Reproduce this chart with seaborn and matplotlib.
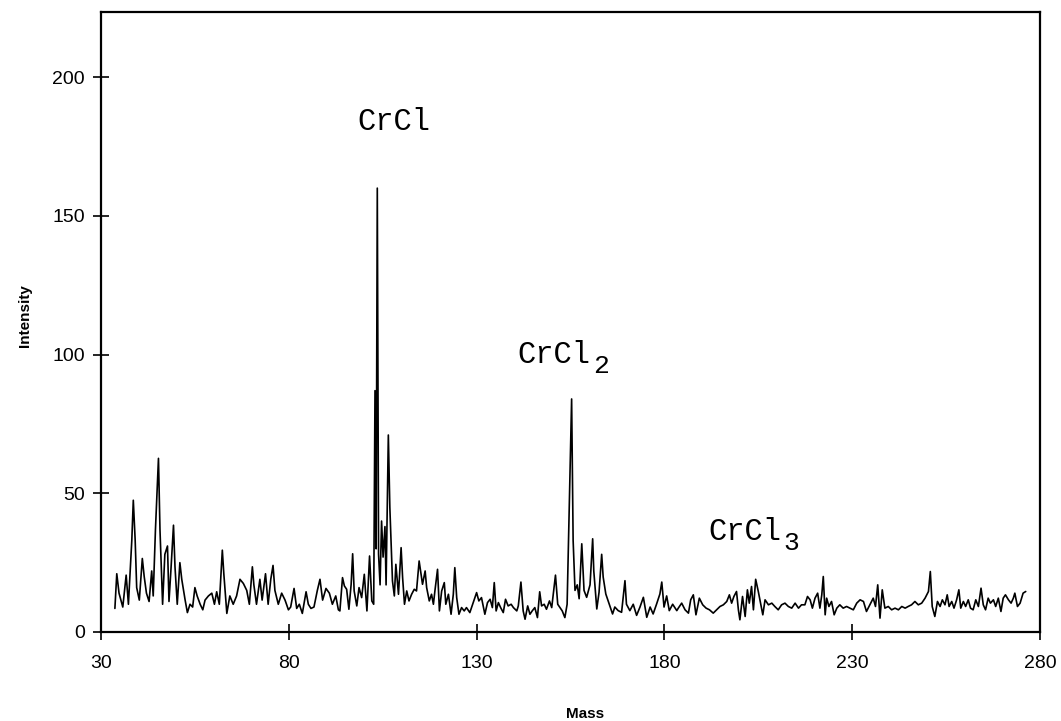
import matplotlib
matplotlib.use("Agg")
import matplotlib.pyplot as plt
import seaborn as sns
import pandas as pd
from matplotlib import font_manager

# ---- data (mass, intensity) ----
mass_low = [33.7, 34.2, 34.8, 35.8, 36.7, 37.3, 38.2, 38.6, 39.1, 39.5,
            40.2, 41.0, 41.5, 42.1, 42.8, 43.5, 43.9, 44.5, 45.3, 45.7,
            46.4, 47.0, 47.7, 48.1, 48.6, 49.3, 49.7, 50.3, 51.0, 51.5,
            52.4, 53.0, 53.7, 54.4, 55.0, 55.6, 56.4, 57.1, 57.7, 58.6,
            59.5, 60.2, 60.8, 61.5, 62.3, 62.7, 63.5, 64.3, 65.2, 66.1,
            67.0, 67.9, 68.8, 69.5, 70.3, 70.7, 71.4, 72.3, 72.9, 73.8,
            74.5, 75.2, 75.8, 76.3, 77.2, 78.1, 79.0, 79.9, 80.5, 81.4,
            82.1, 82.8, 83.6, 84.6, 85.2, 85.9, 86.7, 87.6, 88.3, 89.0,
            89.9, 90.8, 91.6, 92.5, 93.2]
inten_low = [8.5, 21, 14, 9, 20.5, 10, 33, 47.5, 33, 16,
             11.5, 26.5, 20, 14, 11, 22, 13, 37, 62.6, 37,
             10, 28, 31, 11, 22, 38.5, 23.5, 10, 25, 19,
             11.5, 7, 10, 9, 16, 13, 10, 8, 11.5, 13,
             14, 10, 14.5, 10, 29.5, 21, 6.7, 13, 10, 13,
             19, 17.5, 15, 10, 23.5, 17, 10, 19, 11.5, 21,
             10, 19, 24, 15, 10, 14, 11.5, 8, 9, 15.7,
             8.5, 10, 6.7, 14.5, 10, 8.5, 9, 15, 19, 11.5,
             15.7, 14, 10, 13, 8]

mass_mid = [93.6, 94.3, 94.8, 95.4, 96.0, 96.6, 97.0, 97.4, 98.1, 98.7,
            99.4, 100.1, 100.8, 101.5, 102.1, 102.6, 102.95, 103.25, 103.56, 103.9,
            104.3, 104.7, 105.1, 105.6, 105.9, 106.5, 106.9, 107.6, 108.1, 108.5,
            109.2, 109.9, 110.3, 110.8, 111.4, 112.0, 112.7, 113.4, 114.0, 114.7,
            115.2, 115.6, 116.3, 116.7, 117.4, 118.0, 118.5, 118.9, 119.6, 120.1,
            120.7, 121.4, 121.8, 122.5, 123.2, 123.8, 124.2, 124.7, 125.3, 126.0,
            126.7, 127.3, 128.2, 129.1, 130.0, 130.6, 131.3, 132.2, 132.9, 133.6,
            134.2, 134.7, 135.2, 135.8, 136.4, 137.1, 137.7, 138.4, 139.2, 139.8,
            140.7, 141.1, 141.8, 142.4, 142.9, 143.6, 144.2, 144.8, 145.5, 146.2,
            146.8, 147.3, 148.0, 148.6, 149.4, 150.0, 150.4, 151.0, 151.6, 152.2,
            152.8, 153.5, 154.1, 154.7, 155.3, 155.7, 156.2, 156.8, 157.3, 158.0,
            158.6, 159.3, 160.2, 160.9, 161.2, 162.0, 162.6, 163.3, 163.7, 164.4,
            165.3, 166.2, 166.8, 167.7, 168.6, 169.5, 169.9, 170.8, 171.7, 172.6,
            173.5, 174.4, 175.3, 176.2, 177.0, 177.9, 178.8, 179.3, 179.9, 180.6,
            181.3, 182.2, 183.3]
inten_mid = [7.6, 19.6, 16.6, 15.4, 8.2, 17.2, 28.2, 14.8, 9.4, 16,
             12.4, 20.8, 7.6, 27.4, 11.2, 10, 87, 30, 160, 28,
             17, 40, 27, 38, 17, 71, 45, 18.4, 13, 24.4,
             13.6, 30.4, 19.6, 10, 14.8, 11.2, 13.6, 15.4, 14.8, 25.6,
             20.8, 17.2, 22, 16, 11.2, 13.6, 10, 14.8, 22.6, 7.6,
             14.8, 17.8, 10, 13.6, 6.4, 13.6, 23.2, 12.4, 6.4, 8.8,
             7.6, 8.8, 7, 10.6, 14.2, 11.2, 12.4, 6.4, 10.6, 11.8,
             8.8, 17.8, 7.6, 10.6, 8.8, 7, 11.8, 9.4, 10, 8.8,
             7.6, 9.4, 18, 7.6, 4.6, 9.4, 6.4, 7.6, 8.8, 5.2,
             14.5, 9.4, 10, 8.2, 11.2, 8.8, 13.6, 20.5, 10, 8.8,
             7.6, 5.2, 10, 47, 84, 33, 15, 17, 12, 31.8,
             15, 12.5, 17, 33.6, 22, 8.3, 14.3, 28, 19.8, 13.7,
             10.1, 6.5, 9, 7.7, 7.1, 18.5, 10, 7.7, 10, 6,
             9, 12.5, 5.3, 9, 6.5, 10, 13.7, 18, 9, 13,
             7.7, 10, 7.7]

mass_high = [183.7, 184.6, 185.5, 186.4, 187.0, 187.7, 188.4, 189.3, 190.2, 191.1,
             192.0, 193.0, 193.9, 194.8, 195.7, 196.6, 197.3, 197.9, 198.5, 199.2,
             199.7, 200.1, 200.8, 201.5, 202.1, 202.6, 203.2, 203.7, 204.3, 205.0,
             205.6, 206.2, 206.8, 207.7, 208.6, 209.4, 210.3, 211.2, 212.1, 213.0,
             213.9, 214.8, 215.7, 216.5, 217.4, 218.1, 218.8, 219.4, 220.1, 220.8,
             221.4, 221.9, 222.3, 222.8, 223.2, 223.8, 224.5, 225.2, 225.9, 226.7,
             227.6, 228.5, 229.4, 230.3, 231.2, 232.1, 233.0, 233.8, 234.7, 235.6,
             236.2, 236.8, 237.4, 238.0, 238.7, 239.6, 240.5, 241.4, 242.3, 243.2,
             244.1, 244.9, 245.8, 246.7, 247.6, 248.5, 249.4, 250.3, 250.8, 251.3,
             252.0, 252.7, 253.4, 254.0, 254.7, 255.3, 255.8, 256.5, 257.1, 257.8,
             258.4, 258.9, 259.6, 260.2, 260.9, 261.5, 262.2, 262.9, 263.6, 264.3,
             264.9, 265.5, 266.2, 266.8, 267.6, 268.2, 268.9, 269.6, 270.2, 270.8,
             271.6, 272.3, 272.9, 273.3, 274.0, 274.7, 275.5, 276.2]
inten_high = [8.6, 10.4, 8, 6.8, 11.6, 13.4, 6.2, 12.2, 9.8, 8.6,
              8, 6.8, 8, 9.2, 9.8, 11, 13.4, 10.4, 12.8, 14.6,
              8, 4.4, 12.8, 5.6, 15.2, 10.4, 16.4, 8, 19, 14.6,
              10.4, 6.2, 11.6, 9.8, 10.4, 9.2, 8, 9.8, 10.4, 9.2,
              8.6, 10.4, 8.6, 9.8, 9.8, 12.8, 11.6, 8.6, 12.2, 14,
              8.6, 13.4, 20, 6.2, 12.2, 9.2, 11, 6.2, 8.6, 9.8,
              8.6, 9.2, 8.6, 8, 10.4, 11.6, 11, 7.4, 9.8, 12.2,
              9.2, 17, 5, 15.2, 8.6, 9.2, 8, 8.6, 8, 9.2,
              8.6, 9.2, 9.8, 11, 9.8, 10.4, 12.2, 14.6, 21.8, 9.2,
              5.6, 11, 9.2, 11.6, 9.8, 13.4, 9.2, 11, 8.6, 11.6,
              15.2, 8.6, 11, 9.2, 11.6, 8.6, 8, 11.6, 9.2, 15.8,
              9.8, 8, 12.2, 10.4, 11.6, 9.2, 12.2, 7.4, 12.2, 13.4,
              11.6, 10.4, 12.2, 14, 9.2, 10.4, 14, 14.6]

x_ticks = [30, 80, 130, 180, 230, 280]
y_ticks = [0, 50, 100, 150, 200]

label_base = ["CrCl", "CrCl", "CrCl"]
label_sub = ["", "2", "3"]
label_mass = [98.2, 140.8, 191.6]
label_inten = [184, 100, 36]

# ---- figure ----
sns.set_style("white")
plt.rcParams["font.family"] = ["Liberation Sans", "DejaVu Sans"]
plt.rcParams["text.color"] = "black"
plt.rcParams["axes.labelcolor"] = "black"
plt.rcParams["xtick.color"] = "black"
plt.rcParams["ytick.color"] = "black"

df = pd.DataFrame({
    "Mass": mass_low + mass_mid + mass_high,
    "Intensity": inten_low + inten_mid + inten_high,
})

fig = plt.figure(figsize=(10.61, 7.21), dpi=100)
ax = fig.add_axes([101 / 1061, 1 - 632 / 721, 939 / 1061, 620 / 721])
sns.lineplot(data=df, x="Mass", y="Intensity", ax=ax, color="black",
             linewidth=1.2, sort=False, estimator=None)

ax.set_xlim(30, 280)
ax.set_ylim(0, 223.5)
ax.set_xticks(x_ticks)
ax.set_yticks(y_ticks)

narrow = "Liberation Sans Narrow"
try:
    font_manager.findfont(narrow, fallback_to_default=False)
    tick_family = [narrow, "Liberation Sans"]
except Exception:
    tick_family = ["Liberation Sans"]

for lab in ax.get_xticklabels() + ax.get_yticklabels():
    lab.set_family(tick_family)
    lab.set_fontsize(14)
    lab.set_color("black")

ax.tick_params(axis="both", direction="inout", length=11, width=1.2,
               color="black", bottom=True, left=True, top=False, right=False)
ax.tick_params(axis="x", pad=11)
ax.tick_params(axis="y", pad=6)

for s in ax.spines.values():
    s.set_visible(True)
    s.set_linewidth(1.6)
    s.set_color("black")

ax.set_xlabel("Mass", fontsize=11, fontweight="bold", color="black")
ax.set_ylabel("Intensity", fontsize=11, fontweight="bold", color="black")
ax.xaxis.set_label_coords(0.516, -0.121)
ax.yaxis.set_label_coords(-0.074, 0.51)

mono = ["Liberation Mono", "DejaVu Sans Mono"]
for base, sub, xm, yi in zip(label_base, label_sub, label_mass, label_inten):
    t = ax.text(xm, yi, base, fontsize=22, family=mono, ha="left",
                va="center", color="black")
    if sub:
        ax.annotate(sub, xy=(1.0, 0.5), xycoords=t, xytext=(2, -8),
                    textcoords="offset points", fontsize=19, family=mono,
                    ha="left", va="center", color="black")

fig.savefig("out.png", dpi=100)
